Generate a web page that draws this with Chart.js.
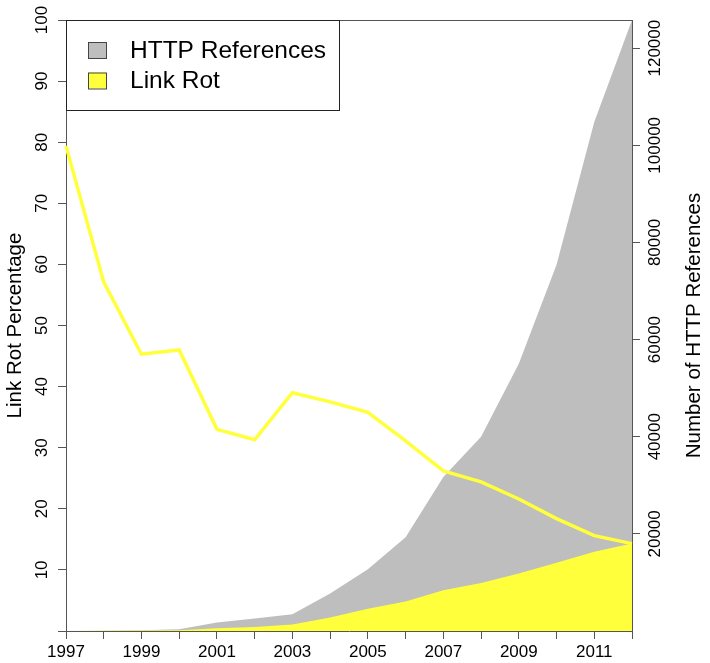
<!DOCTYPE html>
<html>
<head>
<meta charset="utf-8">
<script src="https://cdn.jsdelivr.net/npm/chart.js@4.4.1/dist/chart.umd.min.js"></script>
<style>
  html, body { margin: 0; padding: 0; background: #fff; }
  #wrap { width: 710px; height: 663px; position: relative; }
</style>
</head>
<body>
<div id="wrap"><canvas id="rotChart"></canvas></div>
<script>
const years = ['1997','1998','1999','2000','2001','2002','2003','2004','2005','2006','2007','2008','2009','2010','2011','2012'];
const httpRefs = [10, 60, 150, 350, 1750, 2570, 3450, 7700, 12700, 19300, 31700, 40000, 55000, 75400, 104800, 125800];
const rotCounts = [8, 35, 90, 180, 580, 800, 1340, 2800, 4560, 6070, 8400, 9900, 11840, 14030, 16300, 18000];
const rotPct = [79.4, 57.1, 45.3, 46.0, 33.0, 31.3, 39.0, 37.5, 35.8, 31.1, 26.2, 24.4, 21.6, 18.4, 15.6, 14.3];
const pctTicks = [0, 10, 20, 30, 40, 50, 60, 70, 80, 90, 100];
const refTicks = [20000, 40000, 60000, 80000, 100000, 120000];
const refMax = 125800;
const leftTitle = 'Link Rot Percentage';
const rightTitle = 'Number of HTTP References';

const FONT = "'Liberation Sans', Arial, Helvetica, sans-serif";
const AXIS_COL = '#555';
Chart.defaults.font.family = FONT;

function drawRotated(ctx, text, x, y) {
    ctx.save();
    ctx.translate(x, y);
    ctx.rotate(-Math.PI / 2);
    ctx.textAlign = 'center';
    ctx.textBaseline = 'middle';
    ctx.fillText(text, 0, 0);
    ctx.restore();
}

// y tick labels in R are rotated, chart.js won't rotate vertical ticks so draw them here
const extrasPlugin = {
    id: 'extras',
    afterDraw(chart) {
        const ctx = chart.ctx;
        const area = chart.chartArea;
        const yS = chart.scales.y;
        const y1S = chart.scales.y1;
        ctx.save();
        // top edge of the box
        ctx.strokeStyle = AXIS_COL;
        ctx.lineWidth = 1;
        ctx.beginPath();
        ctx.moveTo(area.left, area.top + 0.5);
        ctx.lineTo(area.right, area.top + 0.5);
        ctx.stroke();

        ctx.fillStyle = '#000';
        ctx.font = '17px ' + FONT;
        yS.ticks.forEach(t => {
            if (t.value > 0) drawRotated(ctx, String(t.value), 42, yS.getPixelForValue(t.value));
        });
        y1S.ticks.forEach(t => {
            drawRotated(ctx, String(t.value), 655, y1S.getPixelForValue(t.value));
        });
        const midY = (area.top + area.bottom) / 2;
        ctx.font = '20.5px ' + FONT;
        drawRotated(ctx, leftTitle, 15, midY);
        drawRotated(ctx, rightTitle, 694, midY);

        // legend box
        const ds = chart.data.datasets;
        const items = [ds[2], ds[1]];
        ctx.fillStyle = '#fff';
        ctx.fillRect(area.left, area.top, 273, 90);
        ctx.strokeStyle = '#222';
        ctx.strokeRect(area.left + 0.5, area.top + 0.5, 273, 90);
        ctx.font = '24.5px ' + FONT;
        ctx.textAlign = 'left';
        ctx.textBaseline = 'middle';
        items.forEach((d, i) => {
            const cy = area.top + 30 + i * 30.5;
            ctx.fillStyle = d.backgroundColor;
            ctx.fillRect(area.left + 22, cy - 8, 18, 16);
            ctx.strokeStyle = '#444';
            ctx.strokeRect(area.left + 22.5, cy - 7.5, 18, 16);
            ctx.fillStyle = '#000';
            ctx.fillText(d.label, area.left + 64, cy + 1);
        });
        ctx.restore();
    }
};

function initializeChart() {
    const ctx = document.getElementById('rotChart');
    new Chart(ctx, {
        type: 'line',
        data: {
            labels: years,
            datasets: [
                {
                    label: 'Link Rot %',
                    data: rotPct,
                    yAxisID: 'y',
                    borderColor: '#ffff3c',
                    borderWidth: 3.5,
                    fill: false,
                    tension: 0,
                    pointRadius: 0,
                    order: 1
                },
                {
                    label: 'Link Rot',
                    data: rotCounts,
                    yAxisID: 'y1',
                    backgroundColor: '#ffff3c',
                    borderWidth: 0,
                    fill: 'origin',
                    tension: 0,
                    pointRadius: 0,
                    order: 2
                },
                {
                    label: 'HTTP References',
                    data: httpRefs,
                    yAxisID: 'y1',
                    backgroundColor: '#bebebe',
                    borderWidth: 0,
                    fill: 'origin',
                    tension: 0,
                    pointRadius: 0,
                    order: 3
                }
            ]
        },
        options: {
            responsive: true,
            maintainAspectRatio: false,
            animation: false,
            layout: { padding: { top: 20, left: 0, right: 0, bottom: 0 } },
            plugins: {
                legend: { display: false },
                tooltip: { enabled: false }
            },
            scales: {
                x: {
                    type: 'category',
                    offset: false,
                    grid: { drawOnChartArea: false, drawTicks: true, tickLength: 8, color: AXIS_COL },
                    border: { display: true, color: AXIS_COL },
                    ticks: {
                        autoSkip: false,
                        maxRotation: 0,
                        minRotation: 0,
                        padding: 3,
                        color: '#000',
                        font: { size: 17 },
                        callback: function(val) {
                            const lbl = this.getLabelForValue(val);
                            return Number(lbl) % 2 === 1 ? lbl : '';
                        }
                    },
                    afterFit: s => { s.height = 32; }
                },
                y: {
                    position: 'left',
                    min: 0,
                    max: 100,
                    afterBuildTicks: s => { s.ticks = pctTicks.map(v => ({ value: v })); },
                    grid: { drawOnChartArea: false, drawTicks: true, tickLength: 8, color: AXIS_COL },
                    border: { display: true, color: AXIS_COL },
                    ticks: { display: false },
                    afterFit: s => { s.width = 66; }
                },
                y1: {
                    position: 'right',
                    min: 0,
                    max: refMax,
                    afterBuildTicks: s => { s.ticks = refTicks.map(v => ({ value: v })); },
                    grid: { drawOnChartArea: false, drawTicks: true, tickLength: 8, color: AXIS_COL },
                    border: { display: true, color: AXIS_COL },
                    ticks: { display: false },
                    afterFit: s => { s.width = 78; }
                }
            }
        },
        plugins: [extrasPlugin]
    });
}

document.addEventListener('DOMContentLoaded', function() {
    initializeChart();
});
</script>
</body>
</html>
